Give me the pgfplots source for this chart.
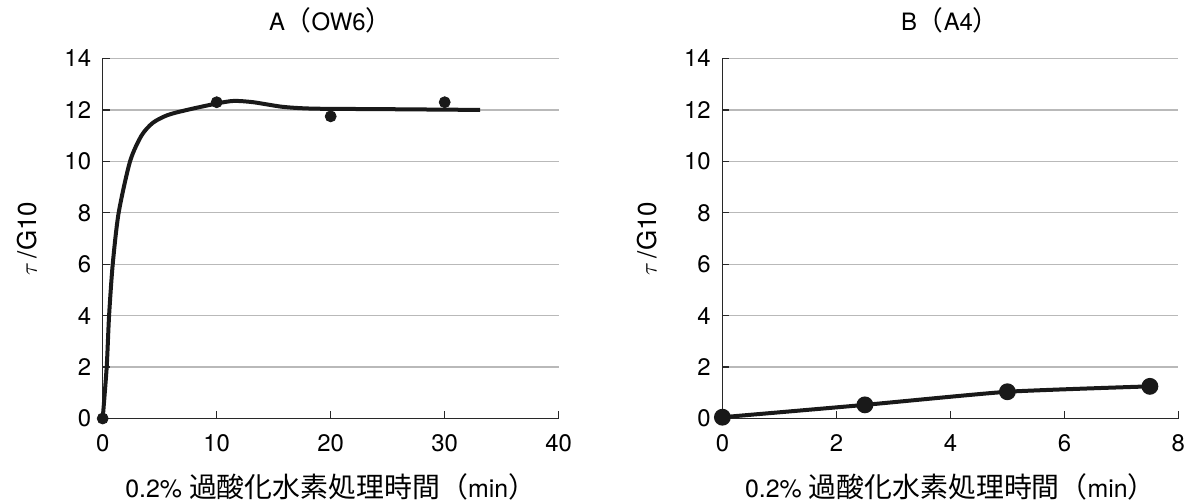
\documentclass[border=0pt]{standalone}
\usepackage{pgfplots}
\pgfplotsset{compat=1.18}
\usepackage{fontspec}
\setmainfont{TeX Gyre Heros}
\newfontfamily\cjk[Scale=1.12]{Noto Sans CJK JP}
\definecolor{gridc}{RGB}{185,185,185}
\definecolor{axc}{RGB}{40,40,40}
\definecolor{linec}{RGB}{25,25,25}
\pgfplotsset{
  myaxis/.style={
    scale only axis, width=228bp, height=180bp,
    font=\fontsize{12}{14}\selectfont,
    /pgf/number format/assume math mode=true,
    axis x line*=bottom, axis y line*=left,
    axis line style={axc, line width=0.6bp},
    ymin=0, ymax=14, ytick={0,2,...,14},
    ymajorgrids, major grid style={gridc, line width=0.6bp},
    tick align=inside, major tick length=3.5bp,
    tick style={axc, line width=0.6bp},
    xticklabel shift=4.5bp, yticklabel shift=2.3bp,
    title style={at={(axis description cs:0.5,1)}, anchor=base, yshift=8bp},
    xlabel style={at={(axis description cs:0.5,0)}, anchor=base, yshift=-39.5bp, font=\fontsize{12.5}{14}\selectfont},
    ylabel style={at={(axis description cs:-0.165,0.5)}, anchor=center, font=\fontsize{13}{15}\selectfont},
    ylabel={$\tau$\,/G10},
    xlabel={0.2\% {\cjk 過酸化水素処理時間（}min{\cjk ）}},
    clip=false,
  }
}
\begin{document}
\begin{tikzpicture}
\useasboundingbox (0,0) rectangle (596bp,251.5bp);
\begin{axis}[myaxis, at={(51.35bp,42.25bp)}, anchor=south west,
  xmin=0, xmax=40, xtick={0,10,20,30,40},
  title={A{\cjk （}OW6{\cjk ）}}]
\addplot[linec, line width=2bp, smooth, tension=0.45] coordinates {
(0,0) (0.35,2) (0.56,4) (0.88,6) (1.4,8) (2.4,10) (3.4,11) (4.4,11.5)
(5.7,11.8) (7.4,12.0) (10,12.25) (11.5,12.35) (13.2,12.3) (15.8,12.12)
(18.5,12.05) (24.6,12.03) (33.1,12.0)};
\addplot[only marks, mark=*, mark size=2.75bp, mark options={fill=linec, draw=linec}] coordinates {
(0,0) (10,12.3) (20,11.75) (30,12.3)};
\end{axis}
\begin{axis}[myaxis, at={(361.2bp,42.25bp)}, anchor=south west,
  xmin=0, xmax=8, xtick={0,2,...,8},
  title={B{\cjk （}A4{\cjk ）}}]
\addplot[linec, line width=2bp, smooth, tension=0.3, mark=*, mark size=3.2bp, mark options={fill=linec, draw=linec}] coordinates {
(0,0.05) (2.5,0.53) (5,1.04) (7.5,1.25)};
\end{axis}
\end{tikzpicture}
\end{document}
